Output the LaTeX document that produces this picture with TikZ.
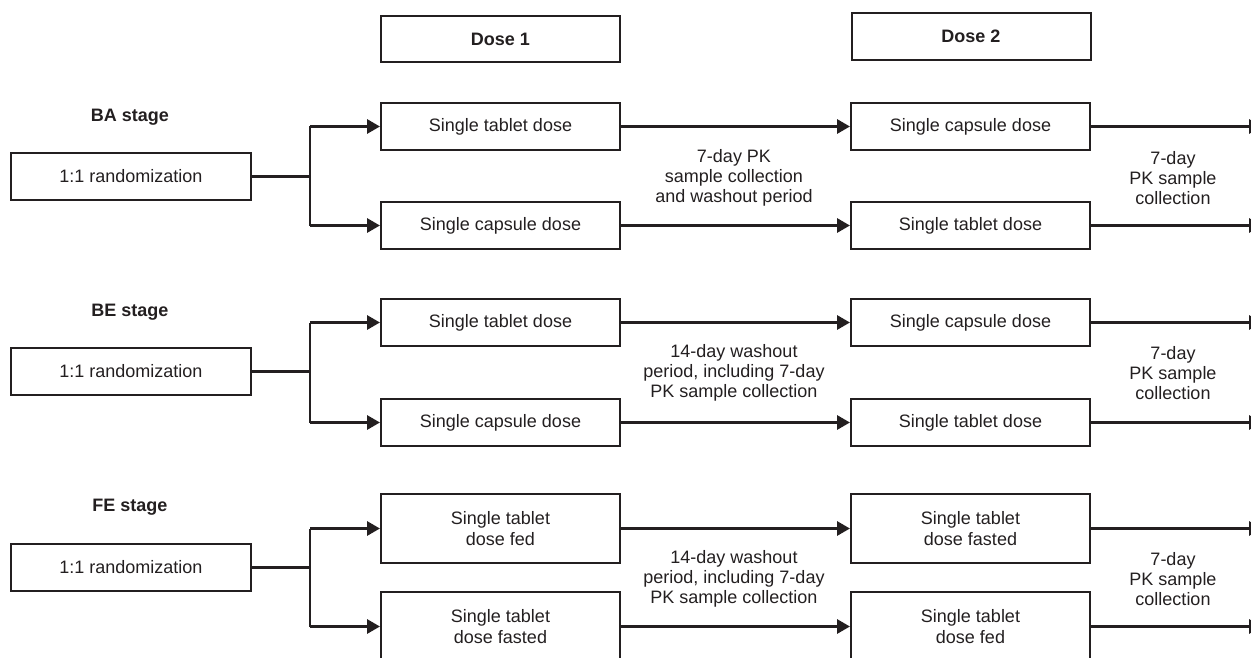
\documentclass[tikz,border=0pt]{standalone}
\usepackage{fontspec}
\setmainfont{Liberation Sans}
\usetikzlibrary{arrows.meta}
\definecolor{ink}{HTML}{231F20}
\tikzset{
  box/.style={draw=ink, line width=2pt, minimum width=239pt, inner sep=0pt, align=center, text=ink, font=\fontsize{18}{20.5}\selectfont},
  bhead/.style={box, font=\fontsize{18}{20}\selectfont\bfseries},
  stagelbl/.style={text=ink, font=\fontsize{18}{20}\selectfont\bfseries},
  note/.style={text=ink, align=center, font=\fontsize{18}{20}\selectfont},
  conn/.style={draw=ink, line width=3pt},
  vline/.style={draw=ink, line width=2pt},
  arr/.style={draw=ink, line width=3pt, -{Triangle[length=13pt,width=14pt]}}
}
\begin{document}
\begin{tikzpicture}[x=1pt,y=-1pt]
\clip (0,0) rectangle (1251,658);
\useasboundingbox (0,0) rectangle (1251,658);
% headers
\node[bhead, minimum height=46pt] (d1) at (500.5,39) {Dose 1};
\node[bhead, minimum height=47pt] (d2) at (971,36.5) {Dose 2};

% ---------- BA stage ----------
\node[stagelbl] (s1) at (130,117) {BA stage};
\node[box, minimum width=240pt, minimum height=47pt] (r1) at (131,176.5) {1:1 randomization};
\node[box, minimum height=47pt] (a1) at (500.5,126.5) {Single tablet dose};
\node[box, minimum height=47pt] (b1) at (500.5,225.5) {Single capsule dose};
\node[box, minimum height=47pt] (c1) at (970.5,126.5) {Single capsule dose};
\node[box, minimum height=47pt] (e1) at (970.5,225.5) {Single tablet dose};
\coordinate (j1) at (310,176.5);
\coordinate (t1a) at (1262,126.5);
\coordinate (t1b) at (1262,225.5);
\draw[conn] (r1.east) -- (j1);
\draw[vline] (j1 |- a1.west) -- (j1 |- b1.west);
\draw[arr] (j1 |- a1.west) -- (a1.west);
\draw[arr] (j1 |- b1.west) -- (b1.west);
\draw[arr] (a1.east) -- (c1.west);
\draw[arr] (b1.east) -- (e1.west);
\draw[arr] (c1.east) -- (t1a);
\draw[arr] (e1.east) -- (t1b);
\node[note] (m1) at (734,178) {7-day PK\\sample collection\\and washout period};
\node[note] (n1) at (1173,178) {7-day\\PK sample\\collection};

% ---------- BE stage ----------
\node[stagelbl] (s2) at (130,312) {BE stage};
\node[box, minimum width=240pt, minimum height=47pt] (r2) at (131,371.5) {1:1 randomization};
\node[box, minimum height=47pt] (a2) at (500.5,322.5) {Single tablet dose};
\node[box, minimum height=47pt] (b2) at (500.5,422.5) {Single capsule dose};
\node[box, minimum height=47pt] (c2) at (970.5,322.5) {Single capsule dose};
\node[box, minimum height=47pt] (e2) at (970.5,422.5) {Single tablet dose};
\coordinate (j2) at (310,371.5);
\coordinate (t2a) at (1262,322.5);
\coordinate (t2b) at (1262,422.5);
\draw[conn] (r2.east) -- (j2);
\draw[vline] (j2 |- a2.west) -- (j2 |- b2.west);
\draw[arr] (j2 |- a2.west) -- (a2.west);
\draw[arr] (j2 |- b2.west) -- (b2.west);
\draw[arr] (a2.east) -- (c2.west);
\draw[arr] (b2.east) -- (e2.west);
\draw[arr] (c2.east) -- (t2a);
\draw[arr] (e2.east) -- (t2b);
\node[note] (m2) at (734,373) {14-day washout\\period, including 7-day\\PK sample collection};
\node[note] (n2) at (1173,373) {7-day\\PK sample\\collection};

% ---------- FE stage ----------
\node[stagelbl] (s3) at (130,507) {FE stage};
\node[box, minimum width=240pt, minimum height=47pt] (r3) at (131,567.5) {1:1 randomization};
\node[box, minimum height=69pt] (a3) at (500.5,528.5) {Single tablet\\dose fed};
\node[box, minimum height=69pt] (b3) at (500.5,626.5) {Single tablet\\dose fasted};
\node[box, minimum height=69pt] (c3) at (970.5,528.5) {Single tablet\\dose fasted};
\node[box, minimum height=69pt] (e3) at (970.5,626.5) {Single tablet\\dose fed};
\coordinate (j3) at (310,567.5);
\coordinate (t3a) at (1262,528.5);
\coordinate (t3b) at (1262,626.5);
\draw[conn] (r3.east) -- (j3);
\draw[vline] (j3 |- a3.west) -- (j3 |- b3.west);
\draw[arr] (j3 |- a3.west) -- (a3.west);
\draw[arr] (j3 |- b3.west) -- (b3.west);
\draw[arr] (a3.east) -- (c3.west);
\draw[arr] (b3.east) -- (e3.west);
\draw[arr] (c3.east) -- (t3a);
\draw[arr] (e3.east) -- (t3b);
\node[note] (m3) at (734,579) {14-day washout\\period, including 7-day\\PK sample collection};
\node[note] (n3) at (1173,579) {7-day\\PK sample\\collection};
\end{tikzpicture}
\end{document}
